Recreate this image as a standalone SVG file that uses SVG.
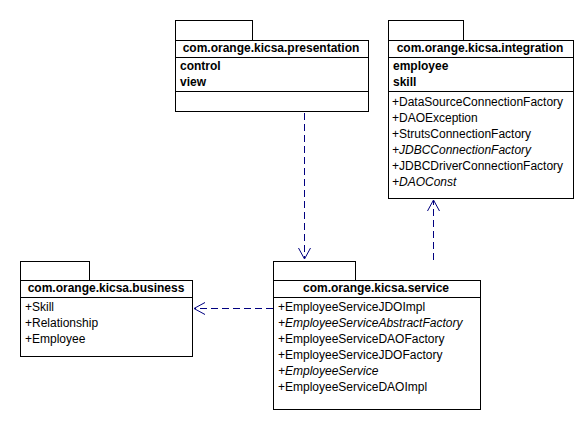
<svg xmlns="http://www.w3.org/2000/svg" width="584" height="421" viewBox="0 0 584 421">
<defs>
<style>
.box{fill:#fff;stroke:#000;stroke-width:1}
.ln{stroke:#000;stroke-width:1}
.hd{font-family:"Liberation Sans",Arial,sans-serif;font-size:12px;font-weight:bold;text-anchor:middle;fill:#000}
.at{font-family:"Liberation Sans",Arial,sans-serif;font-size:12px;font-weight:bold;fill:#000}
.it{font-family:"Liberation Sans",Arial,sans-serif;font-size:12px;fill:#000}
.ital{font-style:italic}
.dep{fill:none;stroke:#000080;stroke-width:1;stroke-dasharray:7,4}
.head{fill:none;stroke:#000080;stroke-width:1}
</style>
</defs>
<rect width="584" height="421" fill="#fff"/>

<g id="presentation">
<rect class="box" x="175.5" y="20.5" width="77" height="20"/>
<rect class="box" x="175.5" y="40.5" width="193" height="71"/>
<line class="ln" x1="175" y1="57.5" x2="369" y2="57.5"/>
<line class="ln" x1="175" y1="91.5" x2="369" y2="91.5"/>
<text class="hd" x="271" y="52">com.orange.kicsa.presentation</text>
<text class="at" x="180" y="70">control</text>
<text class="at" x="180" y="86">view</text>
</g>

<g id="integration">
<rect class="box" x="388.5" y="20.5" width="75" height="20"/>
<rect class="box" x="388.5" y="40.5" width="185" height="158"/>
<line class="ln" x1="388" y1="57.5" x2="574" y2="57.5"/>
<line class="ln" x1="388" y1="91.5" x2="574" y2="91.5"/>
<text class="hd" x="480" y="52">com.orange.kicsa.integration</text>
<text class="at" x="393" y="70">employee</text>
<text class="at" x="393" y="86">skill</text>
<text class="it" x="392" y="106">+DataSourceConnectionFactory</text>
<text class="it" x="392" y="122">+DAOException</text>
<text class="it" x="392" y="138">+StrutsConnectionFactory</text>
<text class="it ital" x="392" y="154">+JDBCConnectionFactory</text>
<text class="it" x="392" y="170">+JDBCDriverConnectionFactory</text>
<text class="it ital" x="392" y="186">+DAOConst</text>
</g>

<g id="business">
<rect class="box" x="20.5" y="261.5" width="69" height="19"/>
<rect class="box" x="20.5" y="280.5" width="172" height="76"/>
<line class="ln" x1="20" y1="297.5" x2="193" y2="297.5"/>
<text class="hd" x="106" y="292">com.orange.kicsa.business</text>
<text class="it" x="25" y="311">+Skill</text>
<text class="it" x="25" y="327">+Relationship</text>
<text class="it" x="25" y="343">+Employee</text>
</g>

<g id="service">
<rect class="box" x="273.5" y="261.5" width="82" height="19"/>
<rect class="box" x="273.5" y="280.5" width="207" height="129"/>
<line class="ln" x1="273" y1="297.5" x2="481" y2="297.5"/>
<text class="hd" x="376" y="292">com.orange.kicsa.service</text>
<text class="it" x="278" y="311">+EmployeeServiceJDOImpl</text>
<text class="it ital" x="278" y="327">+EmployeeServiceAbstractFactory</text>
<text class="it" x="278" y="343">+EmployeeServiceDAOFactory</text>
<text class="it" x="278" y="359">+EmployeeServiceJDOFactory</text>
<text class="it ital" x="278" y="375">+EmployeeService</text>
<text class="it" x="278" y="391">+EmployeeServiceDAOImpl</text>
</g>

<g id="connectors">
<line class="dep" x1="304.5" y1="113" x2="304.5" y2="258"/>
<polyline class="head" points="298.5,248 304.5,259 310.5,248"/>
<line class="dep" x1="433.5" y1="260" x2="433.5" y2="201"/>
<polyline class="head" points="427.5,211 433.5,200 439.5,211"/>
<line class="dep" x1="273" y1="308.5" x2="195" y2="308.5"/>
<polyline class="head" points="205,302.5 194,308.5 205,314.5"/>
</g>
</svg>
